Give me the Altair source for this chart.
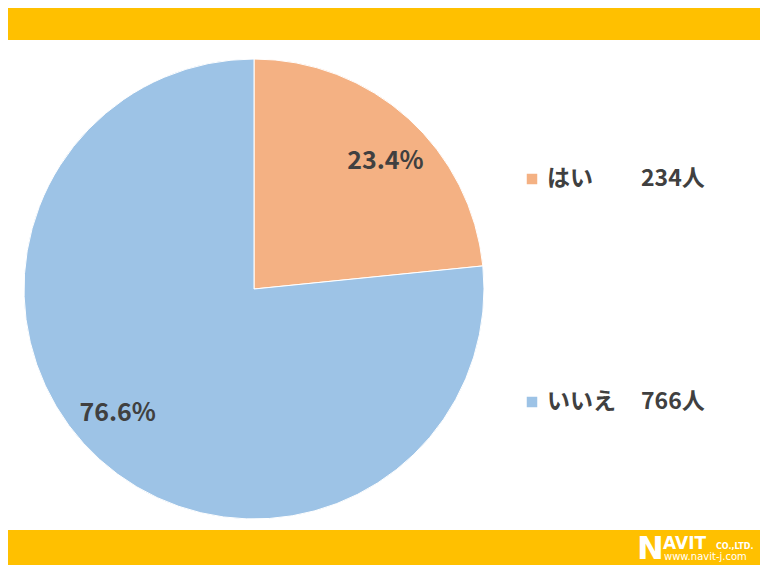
import altair as alt
import pandas as pd

labels = ["はい", "いいえ"]
percents = [23.4, 76.6]
counts = [234, 766]
pct_text = ["23.4%", "76.6%"]
colors = ["#F4B183", "#9DC3E6"]

df = pd.DataFrame({
    "label": labels,
    "pct": percents,
    "count": [f"{c}人" for c in counts],
    "ptxt": pct_text,
    "order": [0, 1],
})

FONT = "Noto Sans CJK JP"
DARK = "#404040"
YEL = "#FFC000"
CX, CY, R = 246, 281, 230
W, H = 752, 557

base = alt.Chart(df)

color = alt.Color("label:N", scale=alt.Scale(domain=labels, range=colors), legend=None)

top_bar = alt.Chart(pd.DataFrame({"a": [0]})).mark_rect(color=YEL).encode(
    x=alt.value(0), x2=alt.value(W), y=alt.value(0), y2=alt.value(32))
bot_bar = alt.Chart(pd.DataFrame({"a": [0]})).mark_rect(color=YEL).encode(
    x=alt.value(0), x2=alt.value(W), y=alt.value(522), y2=alt.value(H))

pie = base.mark_arc(radius=R, stroke="white", strokeWidth=1).encode(
    theta=alt.Theta("pct:Q", stack=True),
    color=color,
    order=alt.Order("order:Q"),
    x=alt.value(CX), y=alt.value(CY),
)

def pct_label(name, dx, dy):
    return base.mark_text(radius=184, font=FONT, fontSize=25, fontWeight="bold",
                          color=DARK, dx=dx, dy=dy).encode(
        theta=alt.Theta("pct:Q", stack=True),
        order=alt.Order("order:Q"),
        text="ptxt:N",
        x=alt.value(CX), y=alt.value(CY),
        opacity=alt.condition(alt.datum.label == name, alt.value(1), alt.value(0)),
    )

lbl1 = pct_label("はい", 8, 8)
lbl2 = pct_label("いいえ", -13, -12)

yscale = alt.Y("label:N", sort=labels, scale=alt.Scale(type="point", range=[171, 394], padding=0), axis=None)

squares = base.mark_square(size=110, opacity=1).encode(
    x=alt.value(524), y=yscale, color=color)
names = base.mark_text(align="left", baseline="middle", font=FONT, fontSize=23,
                       fontWeight="bold", color=DARK).encode(
    x=alt.value(539), y=yscale, text="label:N")
nums = base.mark_text(align="left", baseline="middle", font=FONT, fontSize=23,
                      fontWeight="bold", color=DARK).encode(
    x=alt.value(633), y=yscale, text="count:N")

logo_df = pd.DataFrame({"a": [0]})
logo_n = alt.Chart(logo_df).mark_text(text="N", font="DejaVu Sans", fontSize=32, fontWeight="bold",
                                      color="white", align="left", baseline="alphabetic").encode(
    x=alt.value(629), y=alt.value(551))
logo_avit = alt.Chart(logo_df).mark_text(text="AVIT", font="DejaVu Sans", fontSize=17, fontWeight="bold",
                                         color="white", align="left", baseline="alphabetic").encode(
    x=alt.value(655), y=alt.value(541))
logo_co = alt.Chart(logo_df).mark_text(text="CO.,LTD.", font="DejaVu Sans", fontSize=8, fontWeight="bold",
                                       color="white", align="left", baseline="alphabetic").encode(
    x=alt.value(708), y=alt.value(541))
logo_www = alt.Chart(logo_df).mark_text(text="www.navit-j.com", font="DejaVu Sans", fontSize=10,
                                        color="white", align="left", baseline="alphabetic").encode(
    x=alt.value(656), y=alt.value(552))

chart = alt.layer(top_bar, bot_bar, pie, lbl1, lbl2, squares, names, nums,
                  logo_n, logo_avit, logo_co, logo_www).properties(
    width=W, height=H, padding=0, autosize=alt.AutoSizeParams(type="none"),
    background="white",
).configure_view(stroke=None)

chart.save("out.html", embed_options={"renderer": "svg", "actions": False})
